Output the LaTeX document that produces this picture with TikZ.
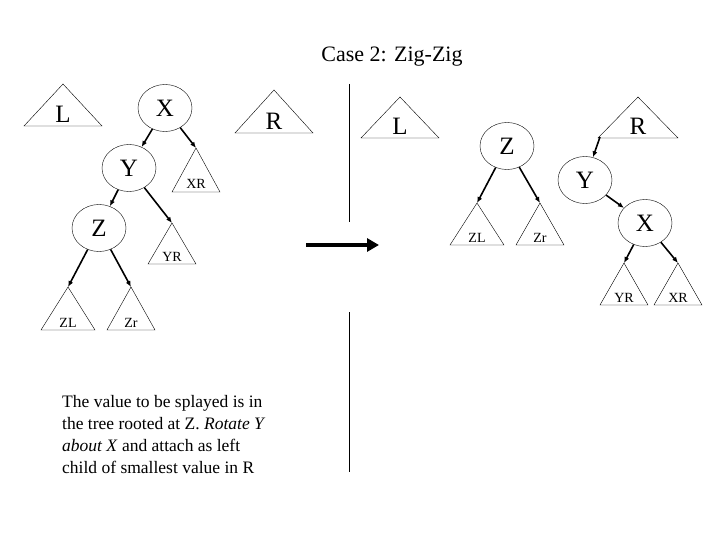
\documentclass[tikz,border=0pt]{standalone}
\usepackage{fontspec}
\setmainfont{Liberation Serif}
\usetikzlibrary{shapes.geometric,arrows.meta}
\tikzset{
  key/.style={draw,ellipse,minimum width=54pt,minimum height=47pt,inner sep=0pt,font=\fontsize{25}{25}\selectfont},
  link/.style={line width=1.6pt,-{Latex[length=6pt,width=5pt]}},
}
% subtree: name, apex x, apex y, half width, height, label, font size
\newcommand{\subtree}[7]{%
  \coordinate (#1) at (#2,#3);
  \draw (#1) -- ++(-#4,#5) -- ++(2*#4,0) -- cycle;
  \node[font=\fontsize{#7}{#7}\selectfont,anchor=base,inner sep=0pt] (#1-lbl) at ($(#1)+(0,#5-3)$) {#6};}
\usetikzlibrary{calc}
\begin{document}
\begin{tikzpicture}[x=1pt,y=-1pt]
        \useasboundingbox (0,0) rectangle (720,540);
        \node[font=\fontsize{22}{22}\selectfont] (title) at (392,57) {Case 2: Zig-Zig};

        % before
        \subtree{lL}{63}{84}{39}{42}{L}{25}
        \subtree{lR}{274}{90}{39}{43}{R}{25}
        \node[key] (lX) at (165,108) {X};
        \node[key] (lY) at (129,168) {Y};
        \node[key] (lZ) at (99,228) {Z};
        \subtree{lXR}{196}{148}{24}{44}{XR}{14}
        \subtree{lYR}{172}{223}{24}{41}{YR}{14}
        \subtree{lZL}{68}{287}{27}{43}{ZL}{14}
        \subtree{lZr}{131}{287}{24}{43}{Zr}{14}
        \draw[link] (lX) -- (lY);
        \draw[link] (lX) -- (lXR);
        \draw[link] (lY) -- (lZ);
        \draw[link] (lY) -- (lYR);
        \draw[link] (lZ) -- (lZL);
        \draw[link] (lZ) -- (lZr);

        % divider and arrow
        \coordinate (d1) at (349,84);
        \coordinate (d2) at (349,222);
        \coordinate (d3) at (349,312);
        \coordinate (d4) at (349,472);
        \draw (d1) -- (d2);
        \draw (d3) -- (d4);
        \coordinate (a1) at (306,245);
        \coordinate (a2) at (379,245);
        \draw[line width=4pt,-{Triangle[length=12pt,width=13pt]}] (a1) -- (a2);

        % after
        \subtree{rL}{400}{97}{39}{41}{L}{25}
        \subtree{rR}{638}{97}{40}{41}{R}{25}
        \node[key] (rZ) at (507,146) {Z};
        \node[key] (rY) at (585,180) {Y};
        \node[key] (rX) at (645,223) {X};
        \subtree{rZL}{477}{203}{27}{42}{ZL}{14}
        \subtree{rZr}{540}{203}{24}{42}{Zr}{14}
        \subtree{rYR}{624}{263}{24}{42}{YR}{14}
        \subtree{rXR}{678}{263}{24}{42}{XR}{14}
        \draw[link] (600,137) -- (rY);
        \draw[link] (rY) -- (rX);
        \draw[link] (rX) -- (rYR);
        \draw[link] (rX) -- (rXR);
        \draw[link] (rZ) -- (rZL);
        \draw[link] (rZ) -- (rZr);

        \node[anchor=north west,align=left,inner sep=0pt,font=\fontsize{17.5}{22}\selectfont] (note) at (62,395)
          {The value to be splayed is in\\the tree rooted at Z. \emph{Rotate Y}\\\emph{about X} and attach as left\\child of smallest value in R};
\end{tikzpicture}
\end{document}
